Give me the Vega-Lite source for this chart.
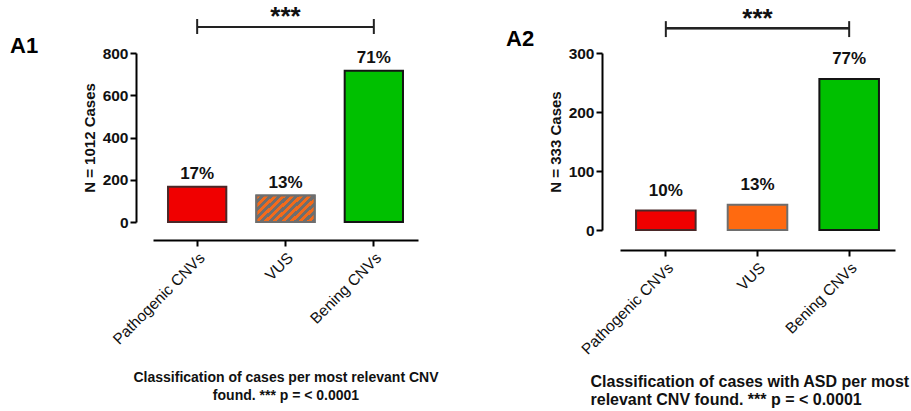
{
  "$schema": "https://vega.github.io/schema/vega-lite/v6.json",
  "padding": {"left": 10, "top": 3, "right": 5, "bottom": 5},
  "background": "white",
  "spacing": 202,
  "bounds": "flush",
  "config": {
    "font": "Liberation Sans",
    "view": {"stroke": null},
    "axis": {
      "domainColor": "black", "domainWidth": 2, "tickColor": "black", "tickWidth": 2, "tickSize": 6,
      "grid": false, "labelColor": "#111", "titleColor": "#111"
    },
    "axisY": {"labelFontSize": 15.5, "labelFontWeight": "bold", "titleFontSize": 15, "titleFontWeight": "bold", "titlePadding": 5, "labelPadding": 2},
    "axisX": {"labelFontSize": 15.5, "labelAngle": -45, "labelPadding": 4, "titleFontSize": 14, "titleFontWeight": "bold", "titleLineHeight": 18, "titleBaseline": "top"},
    "title": {"fontSize": 22, "fontWeight": "bold", "color": "black", "anchor": "start", "frame": "group"}
  },
  "hconcat": [
    {
      "width": 265, "height": 169,
      "title": {"text": "A1", "dx": -143, "dy": 59, "offset": 5},
      "data": {"values": [
        {"category": "Pathogenic CNVs", "cases": 167, "pct": "17%"},
        {"category": "VUS", "cases": 125, "pct": "13%"},
        {"category": "Bening CNVs", "cases": 716, "pct": "71%"}
      ]},
      "encoding": {
        "x": {"field": "category", "type": "nominal", "sort": null,
          "scale": {"domain": ["Pathogenic CNVs", "VUS", "Bening CNVs"], "paddingInner": 0.34, "paddingOuter": 0.17},
          "axis": {"offset": 18, "title": ["Classification of cases per most relevant CNV", "found. *** p = < 0.0001"], "titleY": 130}},
        "y": {"field": "cases", "type": "quantitative",
          "scale": {"domain": [0, 800], "nice": false},
          "axis": {"offset": 17, "values": [0, 200, 400, 600, 800], "title": "N = 1012 Cases"}}
      },
      "layer": [
        {
          "mark": {"type": "bar", "strokeWidth": 2, "clip": false},
          "encoding": {
            "color": {"field": "category", "type": "nominal", "legend": null,
              "scale": {"domain": ["Pathogenic CNVs", "VUS", "Bening CNVs"], "range": ["#f00000", "#ff6a10", "#00c000"]}},
            "stroke": {"field": "category", "type": "nominal", "legend": null,
              "scale": {"domain": ["Pathogenic CNVs", "VUS", "Bening CNVs"], "range": ["#4a2828", "#6e6e6e", "#141414"]}}
          }
        },
        {
          "transform": [{"filter": "datum.category === 'VUS'"}],
          "mark": {"type": "bar", "strokeWidth": 2, "stroke": "#6e6e6e", "clip": false,
            "fill": {"gradient": "linear", "x1": 0, "y1": 0, "x2": 1.2, "y2": 0.58,
              "stops": [
                {"offset": 0, "color": "#f26a1b"}, {"offset": 0.05, "color": "#f26a1b"},
                {"offset": 0.05, "color": "#6e6e6e"}, {"offset": 0.1, "color": "#6e6e6e"},
                {"offset": 0.1, "color": "#f26a1b"}, {"offset": 0.15, "color": "#f26a1b"},
                {"offset": 0.15, "color": "#6e6e6e"}, {"offset": 0.2, "color": "#6e6e6e"},
                {"offset": 0.2, "color": "#f26a1b"}, {"offset": 0.25, "color": "#f26a1b"},
                {"offset": 0.25, "color": "#6e6e6e"}, {"offset": 0.3, "color": "#6e6e6e"},
                {"offset": 0.3, "color": "#f26a1b"}, {"offset": 0.35, "color": "#f26a1b"},
                {"offset": 0.35, "color": "#6e6e6e"}, {"offset": 0.4, "color": "#6e6e6e"},
                {"offset": 0.4, "color": "#f26a1b"}, {"offset": 0.45, "color": "#f26a1b"},
                {"offset": 0.45, "color": "#6e6e6e"}, {"offset": 0.5, "color": "#6e6e6e"},
                {"offset": 0.5, "color": "#f26a1b"}, {"offset": 0.55, "color": "#f26a1b"},
                {"offset": 0.55, "color": "#6e6e6e"}, {"offset": 0.6, "color": "#6e6e6e"},
                {"offset": 0.6, "color": "#f26a1b"}, {"offset": 0.65, "color": "#f26a1b"},
                {"offset": 0.65, "color": "#6e6e6e"}, {"offset": 0.7, "color": "#6e6e6e"},
                {"offset": 0.7, "color": "#f26a1b"}, {"offset": 0.75, "color": "#f26a1b"},
                {"offset": 0.75, "color": "#6e6e6e"}, {"offset": 0.8, "color": "#6e6e6e"},
                {"offset": 0.8, "color": "#f26a1b"}, {"offset": 0.85, "color": "#f26a1b"},
                {"offset": 0.85, "color": "#6e6e6e"}, {"offset": 0.9, "color": "#6e6e6e"},
                {"offset": 0.9, "color": "#f26a1b"}, {"offset": 0.95, "color": "#f26a1b"},
                {"offset": 0.95, "color": "#6e6e6e"}, {"offset": 1, "color": "#6e6e6e"}
              ]}}
        },
        {
          "mark": {"type": "text", "fontSize": 17, "fontWeight": "bold", "baseline": "alphabetic", "dy": -8, "color": "#111", "clip": false},
          "encoding": {"text": {"field": "pct"}}
        },
        {
          "mark": {"type": "rule", "strokeWidth": 2, "color": "#222", "clip": false},
          "encoding": {"x": {"datum": "Pathogenic CNVs"}, "x2": {"datum": "Bening CNVs"}, "y": {"datum": 923}}
        },
        {
          "transform": [{"filter": "datum.category !== 'VUS'"}],
          "mark": {"type": "rule", "strokeWidth": 2, "color": "#222", "clip": false},
          "encoding": {"y": {"datum": 890}, "y2": {"datum": 961}}
        },
        {
          "transform": [{"filter": "datum.category === 'VUS'"}],
          "mark": {"type": "text", "fontSize": 26, "fontWeight": "bold", "baseline": "middle", "dy": 3, "color": "#111", "clip": false},
          "encoding": {"y": {"datum": 985}, "text": {"value": "***"}}
        }
      ]
    },
    {
      "width": 275, "height": 177,
      "title": {"text": "A2", "dx": -114, "dy": 50, "offset": 5},
      "data": {"values": [
        {"category": "Pathogenic CNVs", "cases": 33, "pct": "10%"},
        {"category": "VUS", "cases": 43, "pct": "13%"},
        {"category": "Bening CNVs", "cases": 256, "pct": "77%"}
      ]},
      "encoding": {
        "x": {"field": "category", "type": "nominal", "sort": null,
          "scale": {"domain": ["Pathogenic CNVs", "VUS", "Bening CNVs"], "paddingInner": 0.35, "paddingOuter": 0.175},
          "axis": {"offset": 20, "title": ["Classification of cases with ASD per most", "relevant CNV found. *** p = < 0.0001"], "titleFontSize": 16, "titleLineHeight": 18, "titleY": 123, "titleX": -30, "titleAlign": "left", "titleAnchor": "start"}},
        "y": {"field": "cases", "type": "quantitative",
          "scale": {"domain": [0, 300], "nice": false},
          "axis": {"offset": 18, "values": [0, 100, 200, 300], "title": "N = 333 Cases"}}
      },
      "layer": [
        {
          "mark": {"type": "bar", "strokeWidth": 2, "clip": false},
          "encoding": {
            "color": {"field": "category", "type": "nominal", "legend": null,
              "scale": {"domain": ["Pathogenic CNVs", "VUS", "Bening CNVs"], "range": ["#f00000", "#ff6600", "#00c000"]}},
            "stroke": {"field": "category", "type": "nominal", "legend": null,
              "scale": {"domain": ["Pathogenic CNVs", "VUS", "Bening CNVs"], "range": ["#4a2828", "#707070", "#141414"]}}
          }
        },
        {
          "mark": {"type": "text", "fontSize": 17, "fontWeight": "bold", "baseline": "alphabetic", "dy": -15, "color": "#111", "clip": false},
          "encoding": {"text": {"field": "pct"}}
        },
        {
          "mark": {"type": "rule", "strokeWidth": 2, "color": "#222", "clip": false},
          "encoding": {"x": {"datum": "Pathogenic CNVs"}, "x2": {"datum": "Bening CNVs"}, "y": {"datum": 342}}
        },
        {
          "transform": [{"filter": "datum.category !== 'VUS'"}],
          "mark": {"type": "rule", "strokeWidth": 2, "color": "#222", "clip": false},
          "encoding": {"y": {"datum": 327}, "y2": {"datum": 354}}
        },
        {
          "transform": [{"filter": "datum.category === 'VUS'"}],
          "mark": {"type": "text", "fontSize": 26, "fontWeight": "bold", "baseline": "middle", "dy": 3, "color": "#111", "clip": false},
          "encoding": {"y": {"datum": 363}, "text": {"value": "***"}}
        }
      ]
    }
  ]
}
